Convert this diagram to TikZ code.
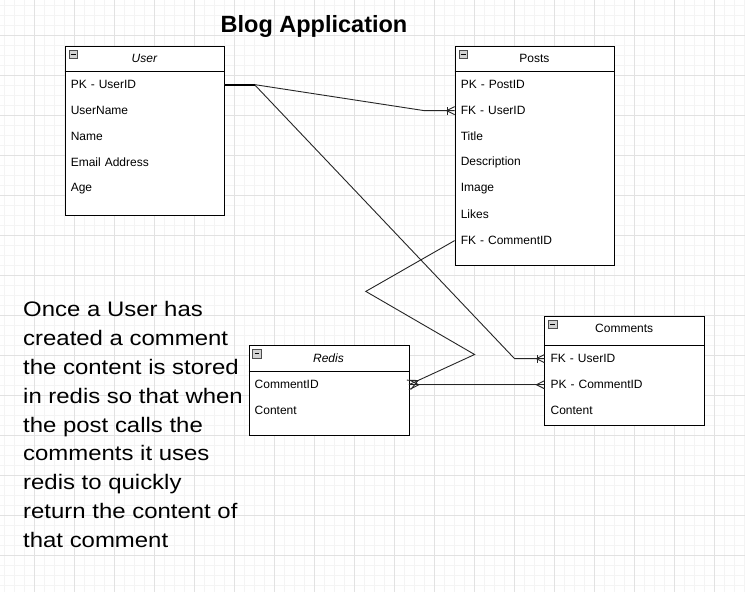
\documentclass[tikz,border=0pt]{standalone}
\usepackage{fontspec}
\setmainfont{Liberation Sans}
\newfontfamily\stretchfont[FakeStretch=1.14]{Liberation Sans}
\usetikzlibrary{calc}
\definecolor{gridmajor}{HTML}{E2E2E2}
\definecolor{gridminor}{HTML}{F4F4F4}
\tikzset{
  ebox/.style={draw=black, line width=1pt, fill=white, anchor=north west, inner sep=0pt},
  erow/.style={anchor=west, text width=147.6pt, inner xsep=6pt, inner ysep=0pt,
    minimum height=26pt, align=left, font=\fontsize{12}{14}\selectfont},
  ehead/.style={font=\fontsize{12}{14}\selectfont, inner sep=0pt},
  eicon/.style={draw=gray!60!black, fill=gray!35, line width=0.6pt, minimum size=8.5pt,
    inner sep=0pt,
    path picture={\draw[line width=0.9pt, black]
      ($(path picture bounding box.west)+(1.8pt,0)$) --
      ($(path picture bounding box.east)+(-1.8pt,0)$);}},
  conn/.style={line width=0.9pt, draw=black!85},
  hline/.style={line width=1pt, draw=black},
}
\newcommand\crowmany[4]{%
  \draw[conn] ($(#1)!#4!90:(#2)$) -- ($(#1)!#3!(#2)$) -- ($(#1)!#4!-90:(#2)$);}
\newcommand\crowone[2]{%
  \crowmany{#1}{#2}{8pt}{4pt}
  \coordinate (crowtmp) at ($(#1)!7pt!(#2)$);
  \draw[conn] ($(crowtmp)!4pt!90:(#2)$) -- ($(crowtmp)!4pt!-90:(#2)$);}
\begin{document}
\begin{tikzpicture}[x=1pt,y=-1pt]
\useasboundingbox (0,0) rectangle (745,592);
\fill[white] (0,0) rectangle (745,592);
% grid
\foreach \x in {4,14,...,744} \draw[gridminor, line width=1pt] (\x,0) -- (\x,592);
\foreach \y in {5,15,...,592} \draw[gridminor, line width=1pt] (0,\y) -- (745,\y);
\foreach \x in {34,74,...,744} \draw[gridmajor, line width=1pt] (\x,0) -- (\x,592);
\foreach \y in {35,75,...,592} \draw[gridmajor, line width=1pt] (0,\y) -- (745,\y);

% title
\node[font=\bfseries\fontsize{23.5}{28}\selectfont, anchor=base, inner sep=0pt] (title) at (314,32.5) {Blog Application};

% User
\node[ebox, minimum width=159.6pt, minimum height=169.5pt] (user) at (64.6,45.7) {};
\draw[hline] (64.6,71.3) -- (224.2,71.3);
\node[eicon] (useri) at (73.1,54.2) {};
\node[ehead, font=\itshape\fontsize{12}{14}\selectfont] (userh) at (144.4,58.5) {User};
\node[erow] (u1) at (64.6,84.6) {PK - UserID};
\node[erow] (u2) at (64.6,110.6) {UserName};
\node[erow] (u3) at (64.6,136.6) {Name};
\node[erow] (u4) at (64.6,162.6) {Email Address};
\node[erow] (u5) at (64.6,188.6) {Age};

% Posts
\node[ebox, minimum width=159.6pt, minimum height=219.7pt] (posts) at (454.6,45.7) {};
\draw[hline] (454.6,71.3) -- (614.2,71.3);
\node[eicon] (postsi) at (463.1,54.2) {};
\node[ehead] (postsh) at (534.4,58.5) {Posts};
\node[erow] (p1) at (454.6,84.6) {PK - PostID};
\node[erow] (p2) at (454.6,110.6) {FK - UserID};
\node[erow] (p3) at (454.6,136.6) {Title};
\node[erow] (p4) at (454.6,162.6) {Description};
\node[erow] (p5) at (454.6,188.6) {Image};
\node[erow] (p6) at (454.6,214.6) {Likes};
\node[erow] (p7) at (454.6,240.6) {FK - CommentID};

% Comments
\node[ebox, minimum width=159.6pt, minimum height=109.4pt] (comments) at (544.4,315.6) {};
\draw[hline] (544.4,345) -- (704,345);
\node[eicon] (commentsi) at (552.9,324.1) {};
\node[ehead] (commentsh) at (624.2,328.4) {Comments};
\node[erow] (c1) at (544.4,358.6) {FK - UserID};
\node[erow] (c2) at (544.4,384.7) {PK - CommentID};
\node[erow] (c3) at (544.4,410.7) {Content};

% Redis
\node[ebox, minimum width=160pt, minimum height=89.9pt] (redis) at (248.5,345.4) {};
\draw[hline] (248.5,371.5) -- (408.5,371.5);
\node[eicon] (redisi) at (257,353.9) {};
\node[ehead, font=\itshape\fontsize{12}{14}\selectfont] (redish) at (328.5,358.6) {Redis};
\node[erow, text width=148pt] (r1) at (248.5,384.7) {CommentID};
\node[erow, text width=148pt] (r2) at (248.5,410.7) {Content};

% connector bends
\coordinate (uj) at (254.5,84.6);
\coordinate (bp) at (424,110.6);
\coordinate (bc) at (514.5,358.6);
\coordinate (v1) at (365.8,291.4);
\coordinate (v2) at (474.6,354.5);

% connectors
\draw[conn] (u1.east) -- (uj) -- (bp) -- (p2.west);
\draw[conn] (u1.east) -- (uj) -- (bc) -- (c1.west);
\draw[line width=2pt] (u1.east) -- (uj);
\draw[conn] (p7.west) -- (v1) -- (v2) -- (r1.east);
\draw[conn] (c2.west) -- (r1.east);

% markers
\crowone{p2.west}{bp}
\crowone{c1.west}{bc}
\crowmany{c2.west}{r1.east}{8pt}{4pt}
\crowmany{r1.east}{c2.west}{10pt}{5pt}
\crowmany{r1.east}{v2}{10pt}{5pt}

% note text
\node[anchor=north west, inner sep=0pt, align=left,
  font=\stretchfont\fontsize{21}{28.8}\selectfont] (note) at (23,301.4)
  {Once a User has\\created a comment\\the content is stored\\in redis so that when\\the post calls the\\comments it uses\\redis to quickly\\return the content of\\that comment};
\end{tikzpicture}
\end{document}
